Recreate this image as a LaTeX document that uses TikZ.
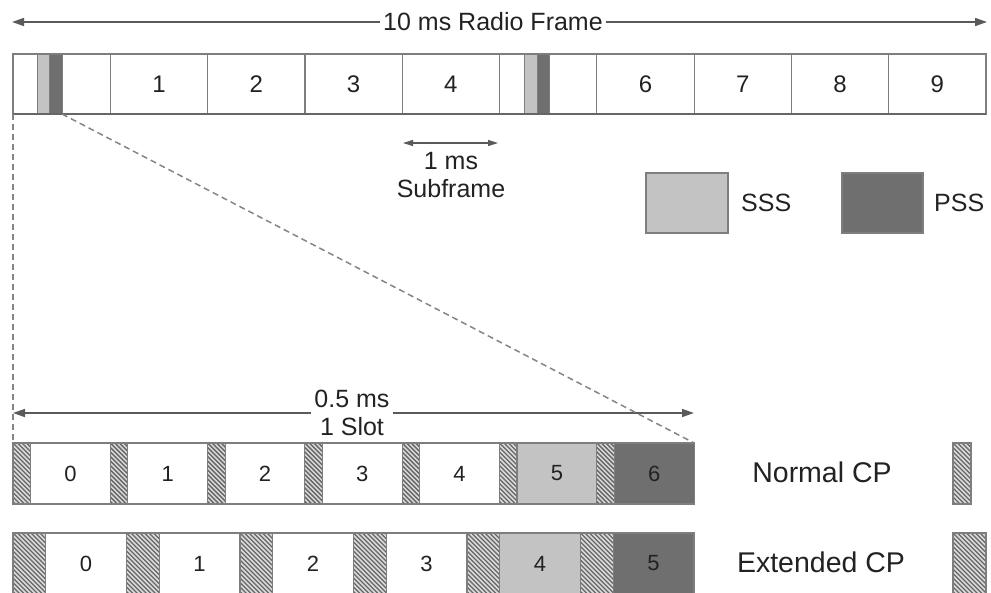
\documentclass[tikz,border=0pt]{standalone}
\usepackage{fontspec}
\setmainfont{Liberation Sans}
\usetikzlibrary{arrows.meta}
\definecolor{frameline}{HTML}{7E7E7E}
\definecolor{framedark}{HTML}{666666}
\definecolor{textc}{HTML}{222222}
\definecolor{arrowc}{HTML}{5A5A5A}
\definecolor{dashc}{HTML}{858585}
\definecolor{ssscol}{HTML}{C3C3C3}
\definecolor{psscol}{HTML}{6F6F6F}
\definecolor{hatchbg}{HTML}{DADADA}
\definecolor{hatchln}{HTML}{666666}
\begin{document}
\begin{tikzpicture}[x=1pt,y=-1pt,
  every node/.style={text=textc},
  txt/.style={font=\fontsize{25}{28}\selectfont, inner sep=3pt},
  sub/.style={draw=frameline, line width=1.2pt, fill=white, minimum width=97.3pt, minimum height=60pt, anchor=north west, inner sep=0pt, outer sep=0pt, font=\fontsize{24}{28}\selectfont},
  syncbar/.style={draw=frameline, line width=0.6pt, minimum width=12.5pt, minimum height=60pt, anchor=north west, inner sep=0pt, outer sep=0pt},
  sym/.style={draw=frameline, line width=1.1pt, minimum height=61pt, anchor=north west, inner sep=0pt, outer sep=0pt, font=\fontsize{22}{26}\selectfont},
  hatchlinestyle/.style={draw=hatchln, line width=1.4pt},
  cp/.style={sym, fill=hatchbg, path picture={
      \foreach \k in {-16,...,9}
        \draw[hatchlinestyle] ([xshift=\k*4.5pt]path picture bounding box.north west) -- ++(80pt,-80pt);}},
  dim/.style={draw=arrowc, line width=1.6pt, -{Triangle[length=12pt,width=8pt]}},
  dimsmall/.style={draw=arrowc, line width=1.3pt, {Triangle[length=10pt,width=6pt]}-{Triangle[length=10pt,width=6pt]}},
  zoomline/.style={draw=dashc, line width=1.5pt, dash pattern=on 6pt off 4pt}
]
\useasboundingbox (0,0) rectangle (991,592);

% radio frame dimension
\node[txt] (rf) at (493,22) {10 ms Radio Frame};
\coordinate (rfL) at (12,22);
\coordinate (rfR) at (987,22);
\draw[dim] (rf.west) -- (rfL);
\draw[dim] (rf.east) -- (rfR);

% top frame
\foreach \i in {0,...,9}
  \node[sub] (f\i) at ({13+97.3*\i},54) {\ifnum\i=0\else\ifnum\i=5\else\i\fi\fi};
\node[syncbar, fill=ssscol] (sss0) at (37,54) {};
\node[syncbar, fill=psscol] (pss0) at (49.5,54) {};
\node[syncbar, fill=ssscol] (sss5) at (524.5,54) {};
\node[syncbar, fill=psscol] (pss5) at (537,54) {};
\draw[draw=framedark, line width=2.6pt] (f0.south west) -- (f9.south east);

% subframe dimension
\coordinate (sfa) at (403,143);
\coordinate (sfb) at (498,143);
\draw[dimsmall] (sfa) -- (sfb);
\node[txt, align=center] (sflabel) at (451,175) {1 ms\\Subframe};

% legend SSS / PSS
\node[draw=frameline, line width=1.4pt, fill=ssscol, minimum width=82pt, minimum height=60pt, inner sep=0pt] (lsss) at (687,203) {};
\node[txt, anchor=west] (lssst) at (738,203) {SSS};
\node[draw=frameline, line width=1.4pt, fill=psscol, minimum width=81pt, minimum height=60pt, inner sep=0pt] (lpss) at (882.5,203) {};
\node[txt, anchor=west] (lpsst) at (931,203) {PSS};

% slot dimension
\node[txt, align=center] (slot) at (352,413) {0.5 ms\\1 Slot};
\coordinate (slotL) at (13,413);
\coordinate (slotR) at (694,413);
\draw[dim] (slot.west) -- (slotL);
\draw[dim] (slot.east) -- (slotR);

% normal CP row
\foreach \i/\c in {0/white,1/white,2/white,3/white,4/white,5/ssscol,6/psscol} {
  \node[cp, minimum width=17.5pt] (ncp\i) at ({13+97.3*\i},443) {};
  \node[sym, fill=\c, minimum width=79.8pt] (nsym\i) at ({30.5+97.3*\i},443) {\i};
}

% extended CP row
\foreach \i/\c in {0/white,1/white,2/white,3/white,4/ssscol,5/psscol} {
  \node[cp, minimum width=32.7pt] (ecp\i) at ({13+113.5*\i},533) {};
  \node[sym, fill=\c, minimum width=80.8pt] (esym\i) at ({45.7+113.5*\i},533) {\i};
}

% zoom lines
\draw[zoomline] (f0.south west) -- (ncp0.north west);
\draw[zoomline] (pss0.south east) -- (nsym6.north east);

% CP legend
\node[txt, font=\fontsize{28.5}{31}\selectfont] (lnormal) at (822,472) {Normal CP};
\node[txt, font=\fontsize{28.5}{31}\selectfont] (lext) at (821,562) {Extended CP};
\node[cp, minimum width=18pt] (lgn) at (953,443) {};
\node[cp, minimum width=33pt] (lge) at (953,533) {};
\end{tikzpicture}
\end{document}
